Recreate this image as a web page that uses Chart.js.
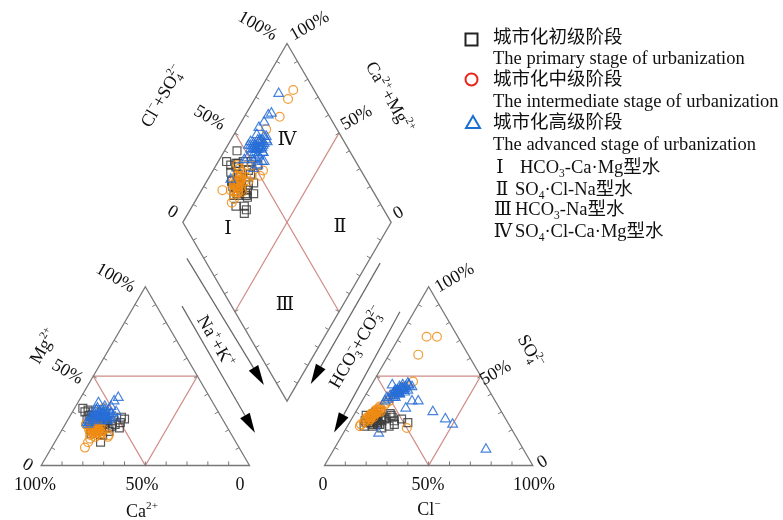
<!DOCTYPE html>
<html lang="zh">
<head>
<meta charset="UTF-8">
<title>Piper diagram</title>
<script src="https://cdn.jsdelivr.net/npm/chart.js"></script>
<style>
    body { margin: 0; background: #fff; }
    #wrap { width: 783px; height: 520px; }
</style>
</head>
<body>
<div id="wrap"><canvas id="piper" width="783" height="520"></canvas></div>
<script>
// samples, meq %: Ca, Mg (cations) and Cl, SO4 (anions)
const primaryCa  = [64, 62, 60, 58, 48, 52, 65, 67, 55, 59, 63, 57, 61, 54, 66, 63, 50, 58, 62, 56, 60, 53, 65, 59, 47, 64, 61, 57,
                    60, 62, 58, 63, 61, 59, 64, 57, 62, 60, 56, 63, 65, 58, 61];
const primaryMg  = [32, 31, 30, 23, 27, 21, 13, 18, 22, 21, 25, 24, 22, 25, 20, 28, 24, 19, 17, 27, 24, 23, 26, 26, 26, 30, 20, 21,
                    25, 22, 26, 24, 27, 23, 21, 26, 28, 22, 25, 19, 23, 27, 24];
const primaryCl  = [9, 11, 14, 12, 10, 9, 17, 11, 22, 28, 17, 6, 13, 16, 10, 12, 20, 15, 8, 19, 24, 11, 14, 9, 7, 18, 21, 10,
                    11, 13, 9, 15, 12, 10, 14, 8, 16, 12, 13, 11, 9, 14, 10];
const primarySO4 = [29, 28, 27, 25, 24, 25, 21, 25, 23, 24, 29, 28, 25, 26, 24, 30, 22, 23, 22, 27, 26, 27, 23, 26, 25, 28, 25, 30,
                    26, 24, 27, 25, 23, 28, 26, 24, 27, 22, 25, 27, 26, 23, 28];

const intermediateCa  = [64, 65, 63, 66, 62, 64, 67, 63, 61, 65, 66, 62, 64, 68, 60, 65, 63, 67, 61, 66, 74, 71, 62, 54, 55, 59, 60, 67, 58, 64, 69, 63,
                         64, 65, 63, 66, 64, 62, 65, 63, 67, 64, 66, 63, 65, 64, 62];
const intermediateMg  = [20, 19, 21, 18, 22, 18, 20, 19, 21, 22, 16, 18, 23, 17, 20, 21, 17, 23, 24, 20, 10, 13, 21, 32, 30, 17, 16, 23, 25, 24, 15, 22,
                         19, 20, 20, 18, 21, 20, 17, 22, 19, 18, 20, 19, 21, 20, 19];
const intermediateCl  = [9, 8, 10, 7, 9, 8, 10, 7, 11, 9, 6, 10, 8, 9, 12, 7, 10, 11, 8, 12, 13, 18, 14, 19, 16, 29, 13, 6, 13, 10, 9, 12,
                         8, 9, 9, 8, 10, 9, 7, 10, 8, 9, 9, 11, 8, 10, 9];
const intermediateSO4 = [29, 28, 30, 26, 31, 27, 29, 24, 32, 30, 23, 33, 28, 26, 34, 25, 27, 31, 29, 30, 72, 72, 62, 47, 44, 21, 40, 22, 36, 32, 25, 35,
                         28, 29, 27, 28, 30, 26, 27, 31, 28, 29, 26, 30, 27, 29, 28];

const advancedCa  = [60, 58, 56, 57, 55, 59, 54, 61, 53, 57, 55, 58, 56, 60, 52, 59, 55, 44, 47, 50, 49, 65, 64, 62, 66, 66, 62, 52, 57, 54, 58, 51, 63, 53, 56,
                     57, 56, 58, 55, 57, 59, 56, 58, 54, 57, 56, 55, 58, 57, 56];
const advancedMg  = [28, 27, 29, 26, 30, 25, 31, 27, 28, 30, 27, 29, 25, 30, 29, 28, 35, 38, 36, 33, 30, 24, 25, 26, 24, 23, 26, 31, 32, 26, 31, 27, 27, 33, 28,
                     28, 29, 27, 28, 30, 27, 28, 29, 30, 27, 29, 28, 28, 29, 27];
const advancedCl  = [14, 15, 16, 13, 17, 12, 18, 15, 14, 16, 13, 18, 12, 17, 15, 11, 10, 18, 24, 27, 23, 37, 45, 50, 73, 17, 11, 19, 15, 14, 13, 16, 14, 17, 20,
                     15, 14, 16, 15, 14, 15, 16, 13, 16, 15, 14, 17, 15, 16, 14];
const advancedSO4 = [42, 41, 43, 40, 44, 39, 45, 38, 44, 40, 42, 41, 37, 46, 43, 38, 45, 45, 36, 36, 32, 30, 26, 23, 9, 18, 36, 42, 45, 38, 41, 40, 39, 43, 44,
                     41, 42, 40, 43, 41, 40, 42, 41, 43, 42, 40, 42, 41, 43, 41];

const seriesNames = ['城市化初级阶段', '城市化中级阶段', '城市化高级阶段'];
const seriesNamesEn = ['The primary stage of urbanization', 'The intermediate stage of urbanization', 'The advanced stage of urbanization'];
const pctLabels = ['100%', '50%', '0'];

// geometry (triangle side = 100 units)
const H = Math.sqrt(3) / 2;
const GAP = 36;
const RX = 100 + GAP;
const DB = { x: (100 + RX) / 2, y: GAP / 2 * Math.sqrt(3) };
const KPX = 2.12, OX = 35, OY = 471;

function cation(ca, mg) { return { x: 100 - ca - mg / 2, y: mg * H }; }
function anion(cl, so4) { return { x: RX + cl + so4 / 2, y: so4 * H }; }
function diamond(camg, clso4) { return { x: DB.x + 0.5 * (clso4 - camg), y: DB.y + H * (camg + clso4) }; }

function groupPoints(ca, mg, cl, so4) {
    const pts = [];
    ca.forEach((c, i) => {
        pts.push(cation(c, mg[i]));
        pts.push(anion(cl[i], so4[i]));
        pts.push(diamond(c + mg[i], cl[i] + so4[i]));
    });
    return pts;
}

const SERIF = '"Liberation Serif", "Times New Roman", "DejaVu Serif", "Noto Sans CJK SC", serif';

// text with optional sup / sub parts, centred on (x, y)
function richText(ctx, parts, x, y, angle, size, align) {
    const small = size * 0.62;
    ctx.save();
    ctx.translate(x, y);
    ctx.rotate(angle * Math.PI / 180);
    ctx.textAlign = 'left';
    ctx.textBaseline = 'alphabetic';
    const items = parts.map(p => {
        if (typeof p === 'string') {
            ctx.font = size + 'px ' + SERIF;
            return { t: p, w: ctx.measureText(p).width };
        }
        ctx.font = small + 'px ' + SERIF;
        const wu = p.sup ? ctx.measureText(p.sup).width : 0;
        const wd = p.sub ? ctx.measureText(p.sub).width : 0;
        return { sup: p.sup, sub: p.sub, w: Math.max(wu, wd) };
    });
    const total = items.reduce((a, b) => a + b.w, 0);
    let cx = align === 'left' ? 0 : -total / 2;
    const base = size * 0.33;
    items.forEach(it => {
        if (it.t !== undefined) {
            ctx.font = size + 'px ' + SERIF;
            ctx.fillText(it.t, cx, base);
        } else {
            ctx.font = small + 'px ' + SERIF;
            if (it.sup) ctx.fillText(it.sup, cx, base - size * 0.42);
            if (it.sub) ctx.fillText(it.sub, cx, base + size * 0.22);
        }
        cx += it.w;
    });
    ctx.restore();
}

function drawTicks(ctx, a, b, c, n, len) {
    const dx = b[0] - a[0], dy = b[1] - a[1], L = Math.hypot(dx, dy);
    let nx = -dy / L, ny = dx / L;
    const mx = (a[0] + b[0]) / 2, my = (a[1] + b[1]) / 2;
    if ((c[0] - mx) * nx + (c[1] - my) * ny < 0) { nx = -nx; ny = -ny; }
    ctx.beginPath();
    for (let i = 1; i < n; i++) {
        const x = a[0] + dx * i / n, y = a[1] + dy * i / n;
        ctx.moveTo(x, y);
        ctx.lineTo(x + nx * len, y + ny * len);
    }
    ctx.stroke();
}

function drawArrow(ctx, s, e) {
    const dx = e[0] - s[0], dy = e[1] - s[1], L = Math.hypot(dx, dy);
    const ux = dx / L, uy = dy / L, hl = 20, hw = 5.5;
    const bx = e[0] - ux * hl, by = e[1] - uy * hl;
    ctx.beginPath(); ctx.moveTo(s[0], s[1]); ctx.lineTo(bx, by); ctx.stroke();
    ctx.beginPath();
    ctx.moveTo(e[0], e[1]);
    ctx.lineTo(bx - uy * hw, by + ux * hw);
    ctx.lineTo(bx + uy * hw, by - ux * hw);
    ctx.closePath();
    ctx.fill();
}

const piperFrame = {
    id: 'piperFrame',
    beforeDatasetsDraw(chart) {
        const ctx = chart.ctx;
        const px = p => [chart.scales.x.getPixelForValue(p[0]), chart.scales.y.getPixelForValue(p[1])];
        const h = 100 * H;
        const left = [[0, 0], [100, 0], [50, h]].map(px);
        const right = [[RX, 0], [RX + 100, 0], [RX + 50, h]].map(px);
        const dB = [DB.x, DB.y], dL = [DB.x - 50, DB.y + h], dT = [DB.x, DB.y + 2 * h], dR = [DB.x + 50, DB.y + h];
        const dia = [dB, dL, dT, dR].map(px);
        const mid = (a, b) => [(a[0] + b[0]) / 2, (a[1] + b[1]) / 2];

        ctx.save();
        // red subdivision lines
        ctx.strokeStyle = '#d08c88';
        ctx.lineWidth = 1.2;
        [[[25, h / 2], [75, h / 2], [50, 0]], [[RX + 25, h / 2], [RX + 75, h / 2], [RX + 50, 0]]].forEach(t => {
            const q = t.map(px);
            ctx.beginPath(); ctx.moveTo(q[0][0], q[0][1]); ctx.lineTo(q[1][0], q[1][1]); ctx.lineTo(q[2][0], q[2][1]); ctx.closePath(); ctx.stroke();
        });
        [[mid(dL, dT), mid(dB, dR)], [mid(dT, dR), mid(dL, dB)]].forEach(seg => {
            const q = seg.map(px);
            ctx.beginPath(); ctx.moveTo(q[0][0], q[0][1]); ctx.lineTo(q[1][0], q[1][1]); ctx.stroke();
        });

        // outlines
        ctx.strokeStyle = '#777';
        ctx.lineWidth = 1.3;
        [left, right, dia].forEach(poly => {
            ctx.beginPath();
            poly.forEach((p, i) => i ? ctx.lineTo(p[0], p[1]) : ctx.moveTo(p[0], p[1]));
            ctx.closePath();
            ctx.stroke();
        });

        // ticks every 10 %
        ctx.lineWidth = 1;
        [left, right].forEach(t => {
            const c = [(t[0][0] + t[1][0] + t[2][0]) / 3, (t[0][1] + t[1][1] + t[2][1]) / 3];
            drawTicks(ctx, t[0], t[1], c, 10, 4);
            drawTicks(ctx, t[1], t[2], c, 10, 4);
            drawTicks(ctx, t[2], t[0], c, 10, 4);
        });
        const dc = px([DB.x, DB.y + h]);
        for (let i = 0; i < 4; i++) drawTicks(ctx, dia[i], dia[(i + 1) % 4], dc, 10, 4);

        // arrows
        ctx.strokeStyle = '#666';
        ctx.fillStyle = '#000';
        ctx.lineWidth = 1.2;
        drawArrow(ctx, px([69.95, 100.3]), px([106.9, 39.0]));
        drawArrow(ctx, px([67.6, 77.2]), px([102.6, 15.8]));
        drawArrow(ctx, px([162.7, 98.0]), px([129.4, 39.5]));
        drawArrow(ctx, px([172.2, 74.5]), px([140.6, 16.0]));
        ctx.restore();
    },
    afterDatasetsDraw(chart) {
        const ctx = chart.ctx;
        ctx.save();
        ctx.fillStyle = '#111';
        const S = 18;
        // cation triangle
        richText(ctx, [pctLabels[0]], 35, 484, 0, S);
        richText(ctx, [pctLabels[1]], 142, 484, 0, S);
        richText(ctx, [pctLabels[2]], 240, 484, 0, S);
        richText(ctx, ['Ca', { sup: '2+' }], 142, 511, 0, S);
        richText(ctx, ['0'], 28, 464, 30, S);
        richText(ctx, [pctLabels[1]], 68, 371, 30, S);
        richText(ctx, [pctLabels[0]], 116, 277, 30, S);
        richText(ctx, ['Mg', { sup: '2+' }], 43, 346, -60, S);
        // anion triangle
        richText(ctx, ['0'], 323, 484, 0, S);
        richText(ctx, [pctLabels[1]], 428, 484, 0, S);
        richText(ctx, [pctLabels[0]], 534, 484, 0, S);
        richText(ctx, ['Cl', { sup: '−' }], 429, 509, 0, S);
        richText(ctx, [pctLabels[0]], 454, 277, -30, S);
        richText(ctx, [pctLabels[1]], 495, 372, -30, S);
        richText(ctx, ['SO', { sub: '4', sup: '2−' }], 531, 351, 60, S);
        richText(ctx, ['0'], 542, 461, -30, S);
        // diamond
        richText(ctx, [pctLabels[0]], 258, 25, 30, S);
        richText(ctx, [pctLabels[0]], 309, 25, -30, S);
        richText(ctx, [pctLabels[1]], 210, 117, 30, S);
        richText(ctx, [pctLabels[1]], 356, 117, -30, S);
        richText(ctx, ['0'], 173, 211, 30, S);
        richText(ctx, ['0'], 398, 212, -30, S);
        richText(ctx, ['Cl', { sup: '−' }, '+SO', { sub: '4', sup: '2−' }], 162, 96, -60, S);
        richText(ctx, ['Ca', { sup: '2+' }, '+Mg', { sup: '2+' }], 390, 97, 60, S);
        richText(ctx, ['Na', { sup: '+' }, '+K', { sup: '+' }], 216, 341, 60, S);
        richText(ctx, ['HCO', { sub: '3', sup: '−' }, '+CO', { sub: '3', sup: '2−' }], 356, 347, -60, S);
        // hydrochemical types
        richText(ctx, ['Ⅳ'], 287, 139, 0, 19);
        richText(ctx, ['Ⅰ'], 228, 228, 0, 19);
        richText(ctx, ['Ⅱ'], 340, 226, 0, 19);
        richText(ctx, ['Ⅲ'], 285, 304, 0, 19);

        // legend
        const L = 18.5;
        ctx.lineWidth = 2;
        ctx.strokeStyle = '#222';
        ctx.strokeRect(465.5, 33.5, 12, 12);
        ctx.strokeStyle = '#e8261c';
        ctx.beginPath(); ctx.arc(471.5, 79.5, 6, 0, Math.PI * 2); ctx.stroke();
        ctx.strokeStyle = '#1c6fd2';
        ctx.beginPath(); ctx.moveTo(473, 116); ctx.lineTo(480, 128); ctx.lineTo(466, 128); ctx.closePath(); ctx.stroke();
        richText(ctx, [seriesNames[0]], 493, 37, 0, L, 'left');
        richText(ctx, [seriesNamesEn[0]], 493, 58, 0, L, 'left');
        richText(ctx, [seriesNames[1]], 493, 79, 0, L, 'left');
        richText(ctx, [seriesNamesEn[1]], 493, 101, 0, L, 'left');
        richText(ctx, [seriesNames[2]], 493, 122, 0, L, 'left');
        richText(ctx, [seriesNamesEn[2]], 493, 144, 0, L, 'left');
        richText(ctx, ['Ⅰ'], 500, 167, 0, L);
        richText(ctx, ['HCO', { sub: '3' }, '-Ca·Mg型水'], 520, 167, 0, L, 'left');
        richText(ctx, ['Ⅱ'], 502, 189, 0, L);
        richText(ctx, ['SO', { sub: '4' }, '·Cl-Na型水'], 515, 189, 0, L, 'left');
        richText(ctx, ['Ⅲ'], 503, 209, 0, L);
        richText(ctx, ['HCO', { sub: '3' }, '-Na型水'], 515, 209, 0, L, 'left');
        richText(ctx, ['Ⅳ'], 503, 231, 0, L);
        richText(ctx, ['SO', { sub: '4' }, '·Cl-Ca·Mg型水'], 515, 231, 0, L, 'left');
        ctx.restore();
    }
};

const ctx = document.getElementById('piper').getContext('2d');
new Chart(ctx, {
    type: 'scatter',
    data: {
        datasets: [
            {
                label: seriesNames[0],
                data: groupPoints(primaryCa, primaryMg, primaryCl, primarySO4),
                order: 2,
                pointStyle: 'rect', pointRadius: 5.6, borderWidth: 1.2,
                borderColor: 'rgba(60,60,60,0.85)', backgroundColor: 'rgba(0,0,0,0)'
            },
            {
                label: seriesNames[1],
                data: groupPoints(intermediateCa, intermediateMg, intermediateCl, intermediateSO4),
                order: 1,
                pointStyle: 'circle', pointRadius: 4.4, borderWidth: 1.2,
                borderColor: 'rgba(240,140,20,0.85)', backgroundColor: 'rgba(0,0,0,0)'
            },
            {
                label: seriesNames[2],
                data: groupPoints(advancedCa, advancedMg, advancedCl, advancedSO4),
                order: 0,
                pointStyle: 'triangle', pointRadius: 5.6, borderWidth: 1.2,
                borderColor: 'rgba(40,110,215,0.85)', backgroundColor: 'rgba(0,0,0,0)'
            }
        ]
    },
    options: {
        responsive: false,
        animation: false,
        devicePixelRatio: 1,
        layout: { padding: 0 },
        plugins: { legend: { display: false }, tooltip: { enabled: false } },
        scales: {
            x: { type: 'linear', display: false, min: -OX / KPX, max: (783 - OX) / KPX },
            y: { type: 'linear', display: false, min: -(520 - OY) / KPX, max: OY / KPX }
        }
    },
    plugins: [piperFrame]
});
</script>
</body>
</html>
